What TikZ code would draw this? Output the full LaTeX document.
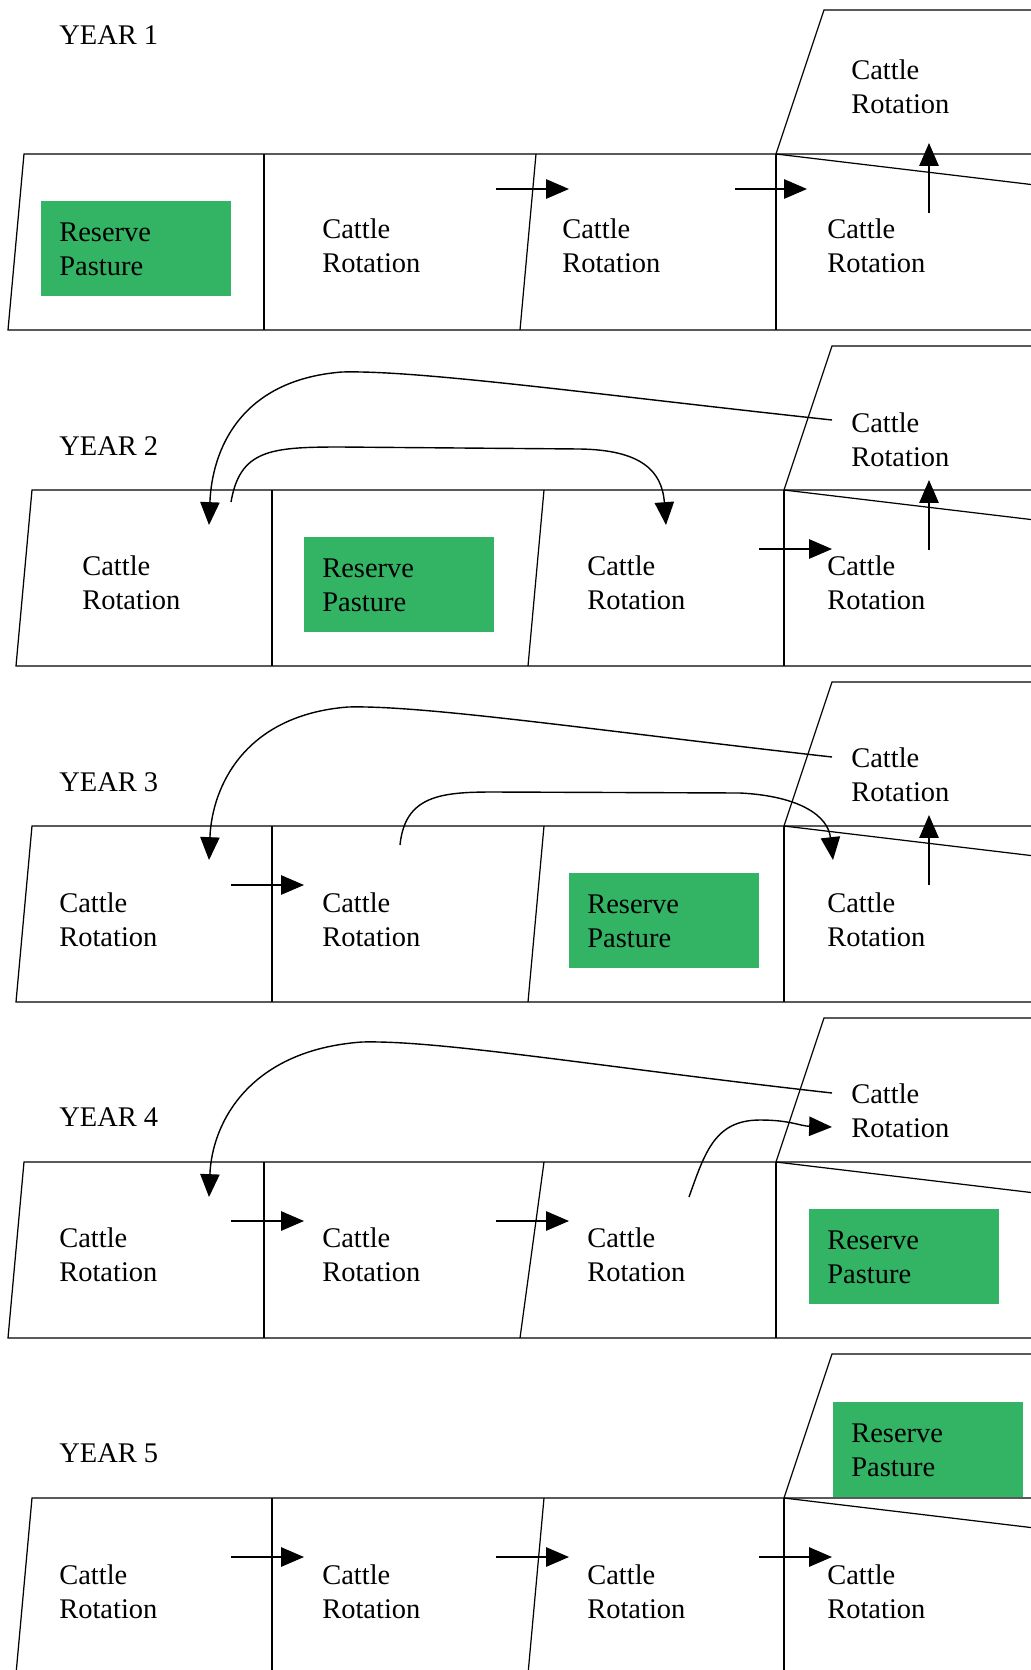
\documentclass[tikz,border=0pt]{standalone}
\usepackage{fontspec}
\setmainfont{Liberation Serif}
\usetikzlibrary{arrows.meta}

\definecolor{pasturegreen}{RGB}{51,179,100}

\tikzset{
  fence/.style={line width=0.7pt},
  move/.style={line width=0.8pt, -{Triangle[length=13pt,width=11pt]}},
  field/.style={anchor=north west, align=left, inner sep=0pt},
  reserve/.style={anchor=north west, fill=pasturegreen, text width=3.08cm,
    inner xsep=0.36cm, minimum height=1.9cm, align=left},
}

% fences of one year, top of the row at y=0
% (optional argument: top end of the slanted middle fence)
\newcommand{\paddocks}[1][544]{%
  \draw[fence] (1060,0) -- (32,0) -- (16,176) -- (1060,176);
  \draw[fence] (272,0) -- (272,176);
  \draw[fence] (#1,0) -- (528,176);
  \draw[fence] (784,0) -- (784,176);
  \draw[fence] (1060,33) -- (784,0) -- (832,-144) -- (1060,-144);
}

\begin{document}
\begin{tikzpicture}[x=0.02cm, y=-0.02cm, font=\fontsize{16.2}{19.35}\selectfont]
    \useasboundingbox (0,0) rectangle (1031,1670);
    \clip (0,0) rectangle (1031,1670);

    % Year 1
    \begin{scope}[shift={(0,154)}]
        \begin{scope}[shift={(-8,0)}] \paddocks \end{scope}
        \node[field] (y1) at (59,-129) {YEAR 1};
        \node[reserve] (r1) at (41,47) {Reserve\\Pasture};
        \node[field] (c12) at (322,64) {Cattle\\Rotation};
        \node[field] (c13) at (562,64) {Cattle\\Rotation};
        \node[field] (c14) at (827,64) {Cattle\\Rotation};
        \node[field] (t1) at (851,-95) {Cattle\\Rotation};
        \coordinate (m1a) at (496,35); \coordinate (m1b) at (569,35);
        \coordinate (m1c) at (735,35); \coordinate (m1d) at (807,35);
        \coordinate (u1a) at (929,59); \coordinate (u1b) at (929,-11);
        \draw[move] (m1a) -- (m1b);
        \draw[move] (m1c) -- (m1d);
        \draw[move] (u1a) -- (u1b);
    \end{scope}

    % Year 2
    \begin{scope}[shift={(0,490)}]
        \paddocks
        \node[field] (y2) at (59,-54) {YEAR 2};
        \node[field] (c21) at (82,65) {Cattle\\Rotation};
        \node[reserve] (r2) at (304,47) {Reserve\\Pasture};
        \node[field] (c23) at (587,65) {Cattle\\Rotation};
        \node[field] (c24) at (827,65) {Cattle\\Rotation};
        \node[field] (t2) at (851,-78) {Cattle\\Rotation};
        \coordinate (b2a) at (832,-70); \coordinate (b2b) at (209,35);
        \coordinate (s2a) at (231,12); \coordinate (s2b) at (666,35);
        \coordinate (m2a) at (759,59); \coordinate (m2b) at (832,59);
        \coordinate (u2a) at (929,60); \coordinate (u2b) at (929,-10);
        \draw[move] (b2a) .. controls (600,-95) and (420,-120) .. (342,-118)
            .. controls (240,-110) and (212,-40) .. (b2b);
        \draw[move] (s2a) .. controls (240,-40) and (270,-43) .. (340,-43) -- (580,-41)
            .. controls (640,-40) and (662,-20) .. (s2b);
        \draw[move] (m2a) -- (m2b);
        \draw[move] (u2a) -- (u2b);
    \end{scope}

    % Year 3
    \begin{scope}[shift={(0,826)}]
        \paddocks
        \node[field] (y3) at (59,-54) {YEAR 3};
        \node[field] (c31) at (59,66) {Cattle\\Rotation};
        \node[field] (c32) at (322,66) {Cattle\\Rotation};
        \node[reserve] (r3) at (569,47) {Reserve\\Pasture};
        \node[field] (c34) at (827,66) {Cattle\\Rotation};
        \node[field] (t3) at (851,-79) {Cattle\\Rotation};
        \coordinate (b3a) at (832,-69); \coordinate (b3b) at (209,34);
        \coordinate (s3a) at (400,19); \coordinate (s3b) at (833,34);
        \coordinate (m3a) at (231,59); \coordinate (m3b) at (304,59);
        \coordinate (u3a) at (929,59); \coordinate (u3b) at (929,-11);
        \draw[move] (b3a) .. controls (600,-95) and (425,-121) .. (348,-119)
            .. controls (245,-111) and (212,-40) .. (b3b);
        \draw[move] (s3a) .. controls (405,-30) and (440,-34) .. (493,-34) -- (740,-33)
            .. controls (800,-30) and (828,-10) .. (s3b);
        \draw[move] (m3a) -- (m3b);
        \draw[move] (u3a) -- (u3b);
    \end{scope}

    % Year 4
    \begin{scope}[shift={(0,1162)}]
        \begin{scope}[shift={(-8,0)}] \paddocks[552] \end{scope}
        \node[field] (y4) at (59,-55) {YEAR 4};
        \node[field] (c41) at (59,65) {Cattle\\Rotation};
        \node[field] (c42) at (322,65) {Cattle\\Rotation};
        \node[field] (c43) at (587,65) {Cattle\\Rotation};
        \node[reserve] (r4) at (809,47) {Reserve\\Pasture};
        \node[field] (t4) at (851,-79) {Cattle\\Rotation};
        \coordinate (b4a) at (832,-69); \coordinate (b4b) at (209,35);
        \coordinate (s4a) at (689,35); \coordinate (s4b) at (832,-35);
        \coordinate (m4a) at (231,59); \coordinate (m4b) at (304,59);
        \coordinate (m4c) at (496,59); \coordinate (m4d) at (569,59);
        \draw[move] (b4a) .. controls (600,-95) and (440,-122) .. (362,-120)
            .. controls (250,-112) and (212,-40) .. (b4b);
        \draw[move] (s4a) .. controls (705,-10) and (715,-42) .. (760,-42)
            .. controls (790,-42) and (800,-36) .. (s4b);
        \draw[move] (m4a) -- (m4b);
        \draw[move] (m4c) -- (m4d);
    \end{scope}

    % Year 5
    \begin{scope}[shift={(0,1498)}]
        \paddocks
        \node[field] (y5) at (59,-55) {YEAR 5};
        \node[field] (c51) at (59,66) {Cattle\\Rotation};
        \node[field] (c52) at (322,66) {Cattle\\Rotation};
        \node[field] (c53) at (587,66) {Cattle\\Rotation};
        \node[field] (c54) at (827,66) {Cattle\\Rotation};
        \node[reserve] (r5) at (833,-96) {Reserve\\Pasture};
        \coordinate (m5a) at (231,59); \coordinate (m5b) at (304,59);
        \coordinate (m5c) at (496,59); \coordinate (m5d) at (569,59);
        \coordinate (m5e) at (759,59); \coordinate (m5f) at (832,59);
        \draw[move] (m5a) -- (m5b);
        \draw[move] (m5c) -- (m5d);
        \draw[move] (m5e) -- (m5f);
    \end{scope}
\end{tikzpicture}
\end{document}
